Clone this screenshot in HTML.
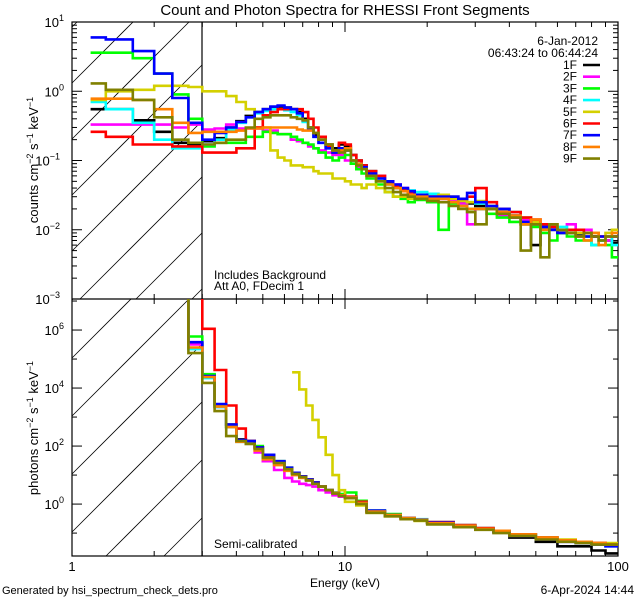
<!DOCTYPE html>
<html><head><meta charset="utf-8"><style>
html,body{margin:0;background:#fff;width:640px;height:600px;overflow:hidden}
svg{display:block;font-family:"Liberation Sans",sans-serif}
</style></head><body>
<svg id="chart" width="640" height="600" viewBox="0 0 640 600" xmlns="http://www.w3.org/2000/svg">
<rect width="640" height="600" fill="#fff"/>
<defs>
<clipPath id="clipTop"><rect x="72" y="22" width="546" height="277"/></clipPath>
<clipPath id="clipBot"><rect x="72" y="299" width="546" height="257"/></clipPath>
</defs>
<text x="345" y="15" font-size="15" text-anchor="middle">Count and Photon Spectra for RHESSI Front Segments</text>
<g id="hatch"></g>
<g id="axes"></g>
<g id="series"></g>
<g id="legend"></g>
<text x="214" y="279" font-size="12">Includes Background</text>
<text x="214" y="290" font-size="12">Att A0, FDecim 1</text>
<text x="214" y="548" font-size="12">Semi-calibrated</text>
<text x="345" y="587" font-size="12" text-anchor="middle">Energy (keV)</text>
<text x="2" y="594" font-size="11">Generated by hsi_spectrum_check_dets.pro</text>
<text x="634" y="594" font-size="12" text-anchor="end">6-Apr-2024 14:44</text>
<text x="598" y="45" font-size="12" text-anchor="end">6-Jan-2012</text>
<text x="598" y="57" font-size="12" text-anchor="end">06:43:24 to 06:44:24</text>
<text font-size="13" text-anchor="middle" transform="translate(38,160) rotate(-90)">counts cm<tspan dy="-5" font-size="9">−2</tspan><tspan dy="5"> s</tspan><tspan dy="-5" font-size="9">−1</tspan><tspan dy="5"> keV</tspan><tspan dy="-5" font-size="9">−1</tspan></text>
<text font-size="13" text-anchor="middle" transform="translate(38,428) rotate(-90)">photons cm<tspan dy="-5" font-size="9">−2</tspan><tspan dy="5"> s</tspan><tspan dy="-5" font-size="9">−1</tspan><tspan dy="5"> keV</tspan><tspan dy="-5" font-size="9">−1</tspan></text>
</svg>
<script>
// ---- data ----
const detectors = ["1F","2F","3F","4F","5F","6F","7F","8F","9F"];
const colors = ["#000000","#ff00ff","#00ff00","#00ffff","#d4d000","#ff0000","#0000ff","#ff8000","#808000"];
const countEdges = [1.17,1.33,1.67,2.0,2.33,2.67,3.0,3.33,3.67,4.0,4.33,4.67,5.0,5.33,5.67,6.0,6.33,6.67,7.0,7.33,7.67,8.0,8.5,9.0,9.5,10.0,10.5,11.0,11.5,12,13,14,15,16,17,18,20,22,24,26,28,30,33,36,40,44,48,52,56,60,65,70,75,80,85,90,95,100];
const counts1F = [0.55,0.55,0.38,0.26,0.18,0.17, .19,.21,.3,.37,.44,.5,.55,.58,.6,.58,.55,.5,.4,.3,.24,.2,.17,.15,.17,.16,.12,.1,.085, .07,.06,.048,.04,.038,.036,.032,.03,.03,.028,.025,.024,.022,.02,.018,.015,.012,.006,.011,.01,.009,.009,.0085,.008,.008,.007,.007,.0065];
const counts2F = [0.33,0.33,0.33,0.33,0.3,0.33, .28,.29,.33,.29,.29,.29,.27,.27,.24,.24,.2,.19,.18,.16,.15,.14,.13,.12,.12,.1,.09,.08,.075, .065,.06,.05,.045,.04,.035,.03,.03,.028,.027,.024,.012,.02,.02,.016,.015,.014,.012,.012,.011,.01,.012,.009,.01,.008,.008,.007,.008];
const counts3F = [3.6,3.6,3.0,1.8,0.9,0.4, .16,.18,.18,.18,.22,.22,.26,.25,.24,.24,.22,.2,.18,.17,.15,.13,.11,.1,.11,.12,.09,.075,.065, .055,.045,.035,.03,.028,.025,.027,.025,.01,.024,.022,.02,.02,.017,.015,.013,.012,.011,.009,.007,.009,.008,.007,.007,.006,.007,.006,.004];
const counts4F = [0.7,0.55,0.35,0.2,0.15,0.15, .17,.2,.28,.35,.42,.48,.52,.55,.55,.53,.5,.45,.36,.28,.22,.18,.15,.13,.15,.14,.1,.09,.08, .065,.055,.045,.04,.038,.037,.035,.033,.03,.03,.028,.025,.024,.022,.02,.018,.015,.013,.012,.011,.011,.01,.009,.008,.006,.007,.008,.006];
const counts5F = [0.75,1.0,1.05,1.2,1.2,1.15, 1.0,1.0,.85,.7,.55,.3,.3,.14,.11,.1,.085,.085,.08,.08,.07,.065,.065,.055,.055,.05,.045,.045,.04, .045,.04,.035,.03,.03,.028,.03,.03,.032,.028,.026,.025,.026,.022,.018,.016,.015,.013,.012,.012,.01,.01,.009,.009,.009,.008,.009,.01];
const counts6F = [0.26,0.22,0.17,0.17,0.16,0.16, .13,.13,.13,.15,.15,.3,.45,.5,.55,.55,.55,.55,.5,.4,.3,.22,.16,.13,.18,.17,.12,.1,.085, .07,.06,.05,.042,.038,.035,.03,.03,.03,.03,.028,.03,.04,.025,.02,.018,.015,.014,.012,.011,.01,.01,.01,.009,.008,.008,.008,.008];
const counts7F = [6.0,5.6,3.8,1.8,0.8,0.35, .2,.25,.3,.36,.42,.5,.55,.6,.62,.58,.55,.48,.38,.28,.22,.18,.15,.13,.15,.14,.1,.09,.08, .065,.055,.05,.045,.04,.036,.032,.03,.03,.03,.028,.034,.025,.022,.02,.016,.013,.012,.011,.01,.009,.009,.008,.008,.008,.008,.008,.008];
const counts8F = [0.78,0.78,0.75,0.55,0.35,0.25, .26,.26,.26,.27,.29,.29,.3,.3,.3,.3,.3,.28,.27,.27,.25,.2,.17,.14,.14,.15,.1,.09,.075, .06,.05,.045,.04,.036,.032,.03,.028,.028,.025,.022,.02,.02,.02,.018,.016,.012,.014,.01,.012,.01,.009,.008,.007,.009,.006,.008,.009];
const counts9F = [1.3,1.05,0.75,0.42,0.2,0.18, .17,.18,.2,.2,.3,.4,.42,.45,.45,.45,.42,.4,.38,.3,.25,.2,.17,.14,.13,.14,.1,.085,.075, .06,.05,.04,.035,.032,.03,.028,.026,.025,.022,.02,.018,.012,.02,.017,.015,.005,.012,.004,.012,.01,.009,.008,.009,.008,.007,.008,.008];
const countSeries = [counts1F,counts2F,counts3F,counts4F,counts5F,counts6F,counts7F,counts8F,counts9F];

const photonEdges = [2.33,2.67,3.0,3.33,3.67,4.0,4.33,4.67,5.0,5.5,6.0,6.4,6.8,7.2,7.6,8.0,8.5,9.0,9.5,10,11,12,14,16,18,20,25,30,35,40,50,60,70,80,90,100];
const photons1F = [1e9,3.5e5,2.8e4,2.6e3,5.5e2,1.7e2,1.5e2,90,45,28,17,12,9,7,5.5,4,3,2.4,2,1.7,1.1,0.55,0.4,0.32,0.28,0.22,0.17,0.14,0.11,0.07,0.05,0.035,0.035,0.025,0.02];
const photons2F = [1e9,3.2e5,2.6e4,2.2e3,4.5e2,1.5e2,1.2e2,60,30,15,8,6,5,4.5,4,3,2.5,2,1.8,1.6,1.1,0.55,0.4,0.3,0.28,0.22,0.18,0.14,0.12,0.09,0.07,0.055,0.05,0.045,0.04];
const photons3F = [1e9,6e5,3e4,2.4e3,4.5e2,1.5e2,1.2e2,100,50,30,18,12,9,7,5.5,4,3,2.5,2.2,2.5,1.3,0.6,0.45,0.33,0.28,0.23,0.18,0.14,0.12,0.09,0.07,0.055,0.05,0.045,0.04];
const photons4F = [1e9,2.2e5,2.2e4,2.2e3,4.5e2,1.4e2,1.3e2,80,40,25,16,11,8.5,6.5,5,4,3,2.4,2,1.7,1.1,0.55,0.42,0.33,0.3,0.24,0.19,0.15,0.12,0.09,0.07,0.055,0.045,0.04,0.035];
const photons5F = [null,null,null,null,null,null,null,null,null,null,null,3.5e4,9e3,2.5e3,8e2,2e2,50,10,3,1.2,0.9,0.5,0.38,0.3,0.26,0.22,0.18,0.14,0.12,0.09,0.07,0.06,0.05,0.045,0.045];
const photons6F = [null,1e9,1.1e6,4.2e4,2.5e3,4e2,1.5e2,90,45,28,17,12,9,7,5.5,4,3,2.4,2,1.8,1.2,0.55,0.42,0.33,0.29,0.24,0.19,0.15,0.12,0.09,0.07,0.055,0.05,0.045,0.04];
const photons7F = [1e9,3.8e5,2.6e4,2.8e3,5.5e2,1.6e2,1.5e2,90,50,30,18,12,9,7,5.5,4,3,2.4,2,1.7,1.1,0.6,0.42,0.33,0.28,0.23,0.18,0.14,0.11,0.08,0.06,0.05,0.045,0.04,0.035];
const photons8F = [1e9,2.5e5,2.4e4,2.3e3,4.5e2,1.4e2,1.2e2,70,35,22,14,10,8,6.5,5,4,3,2.4,2,1.7,1.1,0.55,0.42,0.33,0.28,0.22,0.18,0.14,0.12,0.09,0.07,0.055,0.05,0.045,0.04];
const photons9F = [1e9,1.6e5,1.5e4,1.6e3,2.2e2,1.5e2,1.2e2,80,40,26,16,11,8.5,6.5,5,4,3,2.3,1.9,1.6,1.0,0.5,0.38,0.3,0.27,0.2,0.16,0.13,0.1,0.08,0.06,0.05,0.045,0.04,0.04];
const photonSeries = [photons1F,photons2F,photons3F,photons4F,photons5F,photons6F,photons7F,photons8F,photons9F];

const xTickLabels = ["1","10","100"];
const topYTickLabels = ["1","0","−1","−2","−3"];
const botYTickLabels = ["6","4","2","0"];

// ---- scales ----
const X0=72, X1=618;
function xs(e){ return X0 + (X1-X0)*Math.log10(e)/2; }
const TY0=22, TY1=299, TMAX=1, TMIN=-3;
function clamp(y,a,b){ return Math.max(a,Math.min(b,y)); }
function yTop(v){ return TY0 + (TMAX-Math.log10(v))*(TY1-TY0)/(TMAX-TMIN); }
const BY0=299, BY1=556, BMAX=7.07, BMIN=-1.79;
function yBot(v){ return BY0 + (BMAX-Math.log10(v))*(BY1-BY0)/(BMAX-BMIN); }
function yTopC(v){ return clamp(yTop(v),TY0-3,TY1+3); }
function yBotC(v){ return clamp(yBot(v),BY0-3,BY1+3); }

const NS="http://www.w3.org/2000/svg";
function mk(tag, attrs, parent){ const el=document.createElementNS(NS,tag); for(const k in attrs) el.setAttribute(k,attrs[k]); parent.appendChild(el); return el; }

// ---- hatching (45deg lines clipped analytically to box) ----
const hatch=document.getElementById('hatch');
function hatchBox(x0,y0,x1,y1,start,step,name){
  const g=mk('g',{},hatch);
  
  
  // line: y = c - (x - x0)
  for(let k=-10;k<20;k++){
    const c=start+step*k;
    let xa=x0, ya=c;
    if(ya>y1){ xa=x0+(ya-y1); ya=y1; }
    let xb=x1, yb=c-(x1-x0);
    if(yb<y0){ xb=x0+(c-y0); yb=y0; }
    if(xa>=x1||xb<=x0||xa>=xb) continue;
    mk('line',{x1:xa,y1:ya,x2:xb,y2:yb,stroke:'#000','stroke-width':0.8},g);
  }
}
hatchBox(72,22,202,299,83,56,'hatch-top');
hatchBox(72,299,202,556,358,58,'hatch-bottom');

// ---- axes ----
const axes=document.getElementById('axes');
function ln(x1,y1,x2,y2,w){ return mk('line',{x1,y1,x2,y2,stroke:'#000','stroke-width':w||1},axes); }
const frame=mk('rect',{x:72,y:22,width:546,height:534,fill:'none',stroke:'#000','stroke-width':1.2},axes);


ln(72,299,618,299,1.2);
ln(202,22,202,556,1.2);
for(let d=0; d<2; d++){ for(let m=1;m<=9;m++){ const e=Math.pow(10,d)*m; const x=xs(e); const L=(m===1)?10:5;
  ln(x,22,x,22+L); ln(x,299,x,299-L); ln(x,299,x,299+L); ln(x,556,x,556-L); } }
for(let p=TMIN;p<=TMAX;p++){ for(let m=1;m<=9;m++){ const v=m*Math.pow(10,p); if(Math.log10(v)>TMAX+1e-9) continue; const y=yTop(v); const L=(m===1)?10:5; ln(72,y,72+L,y); ln(618,y,618-L,y); } }
for(let p=-1;p<=7;p++){ const y=yBot(Math.pow(10,p)); if(y<BY0||y>BY1) continue; const L=(p%2===0)?10:5; ln(72,y,72+L,y); ln(618,y,618-L,y); }
[1,10,100].forEach((e,i)=>{ const t=mk('text',{x:xs(e),y:571,'font-size':13,'text-anchor':'middle'},axes); t.textContent=xTickLabels[i];
    });
function ylab(y,exp){ const t=mk('text',{x:62,y:y+5,'font-size':13,'text-anchor':'end'},axes);
   
  const a=document.createElementNS(NS,'tspan'); a.textContent='10'; t.appendChild(a);
  const b=document.createElementNS(NS,'tspan'); b.setAttribute('dy','-6'); b.setAttribute('font-size','9'); b.textContent=exp; t.appendChild(b);
  t.setAttribute('x',72-4-(exp.length>1?8:4)); }
topYTickLabels.forEach((s,i)=>{ ylab(yTop(Math.pow(10,TMAX-i)),s); });
botYTickLabels.forEach((s,i)=>{ ylab(yBot(Math.pow(10,6-2*i)),s); });

// ---- series ----
const seriesG=document.getElementById('series');
function stepPath(edges, vals, yf){
  let d='', prevY=null;
  for(let i=0;i<vals.length;i++){
    const v=vals[i];
    if(v===null||v===undefined){ prevY=null; continue; }
    const xa=xs(edges[i]).toFixed(1), xb=xs(edges[i+1]).toFixed(1), y=yf(v).toFixed(1);
    if(prevY===null){ d+=`M${xa},${y}`; } else { d+=`L${xa},${y}`; }
    d+=`L${xb},${y}`; prevY=y;
  }
  return d;
}
const gTop=mk('g',{'clip-path':'url(#clipTop)'},seriesG);
const gBot=mk('g',{'clip-path':'url(#clipBot)'},seriesG);
detectors.forEach((det,k)=>{
  const p1=mk('path',{d:stepPath(countEdges,countSeries[k],yTopC),fill:'none',stroke:colors[k],'stroke-width':2.6,'stroke-linejoin':'miter'},gTop);
  
  
  const p2=mk('path',{d:stepPath(photonEdges,photonSeries[k],yBotC),fill:'none',stroke:colors[k],'stroke-width':2.6,'stroke-linejoin':'miter'},gBot);
  
  
});

// ---- legend ----
const lg=document.getElementById('legend');
detectors.forEach((det,k)=>{
  const y=65+11.7*k;
  const t=mk('text',{x:577,y:y+4,'font-size':12,'text-anchor':'end'},lg);
  t.textContent=det;
  
  
  const l=mk('line',{x1:583,y1:y,x2:600,y2:y,stroke:colors[k],'stroke-width':2.6},lg);
  
  
});
</script>
</body></html>
